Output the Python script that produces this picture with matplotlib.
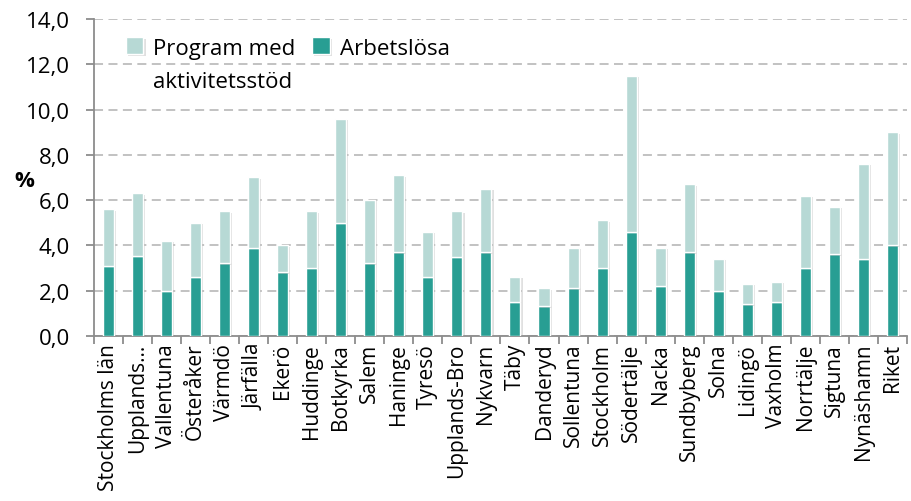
import matplotlib
matplotlib.use("Agg")
import matplotlib.pyplot as plt
import matplotlib.patheffects as pe
from matplotlib.ticker import FuncFormatter, FixedLocator
import numpy as np

plt.rcParams['font.family'] = ['Open Sans', 'DejaVu Sans']

categories = ["Stockholms län", "Upplands…", "Vallentuna", "Österåker", "Värmdö",
              "Järfälla", "Ekerö", "Huddinge", "Botkyrka", "Salem", "Haninge",
              "Tyresö", "Upplands-Bro", "Nykvarn", "Täby", "Danderyd", "Sollentuna",
              "Stockholm", "Södertälje", "Nacka", "Sundbyberg", "Solna", "Lidingö",
              "Vaxholm", "Norrtälje", "Sigtuna", "Nynäshamn", "Riket"]
arbetslosa = [3.1, 3.55, 2.0, 2.6, 3.2, 3.9, 2.8, 3.0, 5.0, 3.2, 3.7,
              2.6, 3.5, 3.7, 1.5, 1.3, 2.1, 3.0, 4.6, 2.2, 3.7, 2.0, 1.4,
              1.5, 3.0, 3.6, 3.4, 4.0]
totalt = [5.6, 6.3, 4.2, 5.0, 5.5, 7.0, 4.0, 5.5, 9.6, 6.0, 7.1,
          4.6, 5.5, 6.5, 2.6, 2.1, 3.9, 5.1, 11.5, 3.9, 6.7, 3.4, 2.3,
          2.4, 6.2, 5.7, 7.6, 9.0]
program = [t - a for t, a in zip(totalt, arbetslosa)]
legend_labels = ["Program med", "aktivitetsstöd", "Arbetslösa"]

dark = "#289E93"
light = "#B7D9D5"
grid_c = "#BDBDBD"
axis_c = "#8C8C8C"

fig = plt.figure(figsize=(9.12, 5.02), dpi=100)
ax = fig.add_axes([0.103, 0.329, 0.8915, 0.631])

x = np.arange(len(categories))
shadow = [pe.SimplePatchShadow(offset=(1.5, -1), shadow_rgbFace="#999999", alpha=0.3), pe.Normal()]
b1 = ax.bar(x, arbetslosa, width=0.38, color=dark, edgecolor="white", linewidth=1.0, zorder=3)
b2 = ax.bar(x, program, width=0.38, bottom=arbetslosa, color=light, edgecolor="white",
            linewidth=1.0, zorder=3)
for r in list(b1) + list(b2):
    r.set_path_effects(shadow)

ax.set_xlim(-0.5, len(categories) - 0.5)
ax.set_ylim(0, 14)
ax.set_yticks(np.arange(0, 14.1, 2))
ax.yaxis.set_major_formatter(FuncFormatter(lambda v, p: f"{v:.1f}".replace(".", ",")))
ax.grid(axis="y", color=grid_c, linestyle=(0, (5, 3)), linewidth=1.3, zorder=0)
ax.set_axisbelow(True)

ax.set_xticks(x)
ax.set_xticklabels(categories, rotation=90, fontsize=15, va="top", ha="center")
ax.xaxis.set_minor_locator(FixedLocator(np.arange(-0.5, len(categories), 1)))
ax.tick_params(axis="x", which="major", length=0, pad=5)
ax.tick_params(axis="x", which="minor", length=5.5, width=1.3, color=axis_c, direction="out")
ax.tick_params(axis="y", which="major", length=5.5, width=1.3, color=axis_c, labelsize=16, pad=12)

for s in ["top", "right"]:
    ax.spines[s].set_visible(False)
for s in ["left", "bottom"]:
    ax.spines[s].set_color(axis_c)
    ax.spines[s].set_linewidth(1.3)

fig.text(0.027, 0.638, "%", fontsize=16, fontweight="bold", ha="center", va="center")

leg = ax.legend([b2, b1], [legend_labels[0], legend_labels[2]], ncol=2, loc="upper left",
                bbox_to_anchor=(0.039, 0.942), frameon=False, fontsize=16,
                handlelength=0.8, handleheight=0.8, handletextpad=0.45,
                columnspacing=0.75, borderaxespad=0.0, borderpad=0.0)

fig.canvas.draw()
t0 = leg.get_texts()[0]
bb = t0.get_window_extent(renderer=fig.canvas.get_renderer())
inv = fig.transFigure.inverted()
(fx0, fy0) = inv.transform((bb.x0, bb.y0))
fig.text(fx0, fy0 - 0.024, legend_labels[1], fontsize=16, ha="left", va="top")

fig.savefig("out.png", dpi=100)
